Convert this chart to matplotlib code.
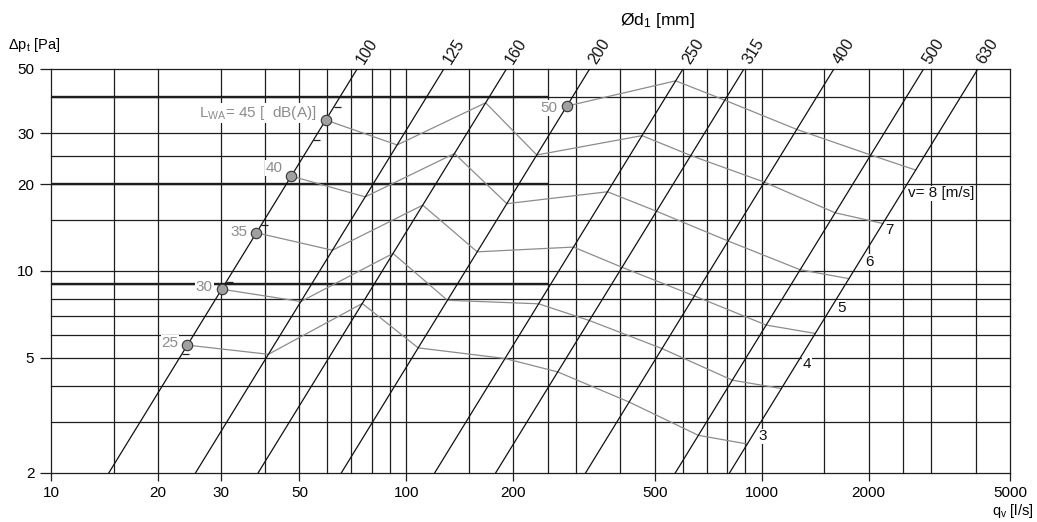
import numpy as np
import matplotlib
matplotlib.use('Agg')
import matplotlib.pyplot as plt
from matplotlib.ticker import NullLocator

plt.rcParams['font.family'] = ['Liberation Sans', 'DejaVu Sans']
plt.rcParams['mathtext.fontset'] = 'custom'
plt.rcParams['mathtext.rm'] = 'Liberation Sans'
plt.rcParams['mathtext.it'] = 'Liberation Sans'
plt.rcParams['mathtext.bf'] = 'Liberation Sans:bold'

# ---------------- data ----------------
diameters = [100, 125, 160, 200, 250, 315, 400, 500, 630]
q_at_50pa = [72.7, 127.5, 191.3, 328, 600.6, 891.7, 1597, 2856, 4059]   # l/s where each line hits 50 Pa

velocities = [3, 4, 5, 6, 7, 8]
# pressure drop [Pa] of each velocity curve where it crosses each diameter line (None = not drawn)
dp_v3 = [5.54, 5.15, 7.72, 5.42, 4.98, 4.475, 3.52, 2.70, 2.52]
dp_v4 = [8.65, 7.84, 11.5, 7.92, 7.7, 6.74, 5.39, 4.19, 3.92]
dp_v5 = [13.56, 11.8, 16.9, 11.65, 12.1, 10.3, 8.2, 6.5, 6.08]
dp_v6 = [21.3, 18.05, 25.5, 17.1, 18.8, 16.1, 12.7, 10.1, 9.41]
dp_v7 = [33.3, 27.3, 38.2, 25.2, 29.4, 25.1, 20.3, 15.9, 14.6]
dp_v8 = [None, None, None, 37.2, 45.5, 39.0, 30.9, 25.2, 22.35]
velocity_dp = [dp_v3, dp_v4, dp_v5, dp_v6, dp_v7, dp_v8]

lwa_labels = ['25', '30', '35', '40', 'L$_\\mathrm{WA}$= 45 [  dB(A)]', '50']
lwa_label_dy = [2, 2, 1, 8, 7, -2]       # pixel offsets of labels
lwa_tick_dp = [5.18, 9.16, 14.4, 28.4, 37.0]   # small marks on the 100 line

vel_labels = ['3', '4', '5', '6', '7', 'v= 8 [m/s]']
vel_label_dp = [2.68, 4.78, 7.47, 10.75, 13.9, 18.6]  # on the 630 line

x_grid = [10, 15, 20, 30, 40, 50, 60, 70, 80, 90, 100, 150, 200, 250, 300, 400, 500,
          600, 700, 800, 900, 1000, 1500, 2000, 2500, 3000, 4000, 5000]
y_grid = [2, 3, 4, 5, 6, 7, 8, 9, 10, 15, 20, 25, 30, 40, 50]
y_bold = [40, 20, 9]
x_ticks = [10, 20, 30, 50, 100, 200, 500, 1000, 2000, 5000]
y_ticks = [2, 5, 10, 20, 30, 50]

# ---------------- figure ----------------
W, H = 1037, 522
fig = plt.figure(figsize=(W / 100, H / 100), dpi=100)
ax = fig.add_axes([51 / W, 49 / H, 959 / W, 404 / H])
ax.set_xscale('log')
ax.set_yscale('log')
ax.set_xlim(10, 5000)
ax.set_ylim(2, 50)
for s in ax.spines.values():
    s.set_visible(False)

grid_c = '#1e1e1e'
for xv in x_grid:
    ax.axvline(xv, color=grid_c, lw=0.9, zorder=1, clip_on=False)
for yv in y_grid:
    ax.axhline(yv, color=grid_c, lw=0.9, zorder=1, clip_on=False)
for yv in y_bold:
    ax.plot([10, 250], [yv, yv], color=grid_c, lw=1.7, zorder=1.5, solid_capstyle='butt')

ax.set_xticks(x_ticks)
ax.set_xticklabels([str(v) for v in x_ticks])
ax.set_yticks(y_ticks)
ax.set_yticklabels([str(v) for v in y_ticks])
ax.xaxis.set_minor_locator(NullLocator())
ax.yaxis.set_minor_locator(NullLocator())
ax.tick_params(axis='x', length=6, width=0.9, color=grid_c, labelsize=11, pad=3.5)
ax.tick_params(axis='y', length=8, width=0.9, color=grid_c, labelsize=11, pad=4)

# diameter lines (dp proportional to q^2)
for d, q50 in zip(diameters, q_at_50pa):
    dp = np.array([2.0, 50.0])
    q = q50 * np.sqrt(dp / 50.0)
    ax.plot(q, dp, color='#111111', lw=0.9, zorder=3)
    ax.annotate(str(d), (q50, 50), xytext=(3, 6), textcoords='offset pixels',
                rotation=58, rotation_mode='anchor', ha='left', va='center',
                fontsize=11.5, color='#111111', annotation_clip=False)

# velocity curves
gray = '#8c8c8c'
for v, dps, lab, dy in zip(velocities, velocity_dp, lwa_labels, lwa_label_dy):
    qs, ps = [], []
    for q50, p in zip(q_at_50pa, dps):
        if p is None:
            continue
        qs.append(q50 * np.sqrt(p / 50.0))
        ps.append(p)
    ax.plot(qs, ps, color=gray, lw=0.9, zorder=2)
    ax.plot(qs[0], ps[0], 'o', ms=7.5, mfc='#a0a0a0', mec='#333333', mew=0.8, zorder=6)
    ax.annotate(lab, (qs[0], ps[0]), xytext=(-9, dy), textcoords='offset pixels',
                ha='right', va='center', fontsize=11, color=gray, zorder=7,
                bbox=dict(fc='white', ec='none', pad=0.6))

# marks on the 100 line
q100 = q_at_50pa[0]
tq = [q100 * np.sqrt(p / 50.0) for p in lwa_tick_dp]
ax.plot(tq, lwa_tick_dp, ls='none', marker=1, ms=5, mew=0.9, color='#222222', zorder=5)

# velocity labels along the 630 line
q630 = q_at_50pa[-1]
for lab, p in zip(vel_labels, vel_label_dp):
    ax.annotate(lab, (q630 * np.sqrt(p / 50.0), p), xytext=(6, 0), textcoords='offset pixels',
                ha='left', va='center', fontsize=11, color='#111111', zorder=7,
                bbox=dict(fc='white', ec='none', pad=0.4))

# axis titles
fig.text(8 / W, 1 - 45 / H, 'Δp$_\\mathrm{t}$ [Pa]', ha='left', va='center', fontsize=10.5)
fig.text(1034 / W, 1 - 511 / H, 'q$_\\mathrm{v}$ [l/s]', ha='right', va='center', fontsize=10.5)
fig.text(620 / W, 1 - 21 / H, 'Ød$_\\mathrm{1}$ [mm]', ha='left', va='center', fontsize=12.5)

fig.savefig('out.png', dpi=100)
